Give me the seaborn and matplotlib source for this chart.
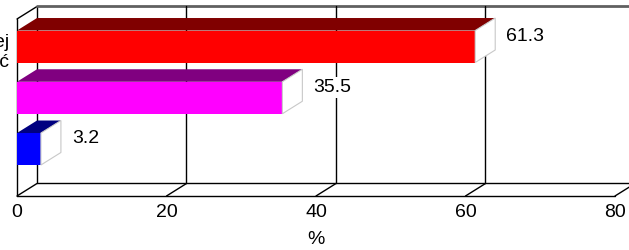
import numpy as np
import pandas as pd
import matplotlib
matplotlib.use('Agg')
import matplotlib.pyplot as plt
import matplotlib.transforms as mtransforms
from matplotlib.patches import Polygon
import seaborn as sns

# dane
kategorie = ['Coraz częściej\nbędzie korzystać', 'Tak samo', 'Rzadziej']
wartosci = [61.3, 35.5, 3.2]
kolory_przod = ['#FF0000', '#FF00FF', '#0000FF']
kolory_gora = ['#800000', '#800080', '#000080']
ticki_x = [0, 20, 40, 60, 80]

sns.set_style('white')
plt.rcParams['font.family'] = ['Liberation Sans', 'DejaVu Sans']
plt.rcParams['text.color'] = 'black'
plt.rcParams['xtick.color'] = 'black'
plt.rcParams['axes.labelcolor'] = 'black'

fig = plt.figure(figsize=(6.29, 2.5), dpi=100)
ax = fig.add_axes([17 / 629, 54 / 250, 612 / 629, 189 / 250])

df = pd.DataFrame({'kat': kategorie, 'proc': wartosci})
sns.barplot(data=df, x='proc', y='kat', hue='kat', palette=kolory_przod,
            orient='h', width=0.624, legend=False, saturation=1, ax=ax, zorder=3)

# głębia 3D (w jednostkach danych)
dx = 20 / 7.475
dy = -0.244
y_front_top = -0.537
y_front_bot = 2.917

ax.set_xlim(0, 612 / 7.475)
ax.set_ylim(y_front_bot, -0.771)
for s in ax.spines.values():
    s.set_visible(False)

# ściany i podłoga
kw = dict(color='black', lw=1, clip_on=False, zorder=1)
ax.plot([dx, dx], [y_front_top + dy, y_front_bot + dy], **kw)
ax.plot([0, 0], [y_front_top, y_front_bot], **kw)
ax.plot([0, dx], [y_front_top, y_front_top + dy], **kw)
ax.plot([dx, 90], [y_front_top + dy, y_front_top + dy], color='#606060', lw=2,
        clip_on=False, zorder=1)
ax.plot([dx, 80 + dx], [y_front_bot + dy, y_front_bot + dy], **kw)
ax.plot([0, 80], [y_front_bot, y_front_bot], **kw)
for t in ticki_x:
    ax.plot([t, t + dx], [y_front_bot, y_front_bot + dy], **kw)
    if 0 < t < 80:
        ax.plot([t + dx, t + dx], [y_front_top + dy, y_front_bot + dy], **kw)

# ściany górne i boczne słupków
for p, kg, v in zip(ax.patches, kolory_gora, wartosci):
    p.set_edgecolor('none')
    y0 = p.get_y()
    y1 = y0 + p.get_height()
    x1 = p.get_x() + p.get_width()
    top = Polygon([(0, y0), (x1, y0), (x1 + dx, y0 + dy), (dx, y0 + dy)],
                  closed=True, facecolor=kg, edgecolor='none', zorder=3)
    side = Polygon([(x1, y0), (x1, y1), (x1 + dx, y1 + dy), (x1 + dx, y0 + dy)],
                   closed=True, facecolor='white', edgecolor='#c8c8c8', lw=0.8, zorder=3)
    ax.add_patch(top)
    ax.add_patch(side)
    ax.text(x1 + dx + 1.5, (y0 + y1) / 2 + dy + 0.04, f'{v:.1f}', ha='left', va='center',
            fontsize=14, zorder=4,
            bbox=dict(facecolor='white', edgecolor='none', pad=1.5))

# etykiety kategorii (ucięte z lewej strony, jak w oryginale)
ax.set_yticks([])
ax.set_ylabel('')
tr = mtransforms.blended_transform_factory(fig.transFigure, ax.transData)
etykiety = []
for i, k in enumerate(kategorie):
    etykiety.append(ax.text(0, i + 0.12, k, transform=tr, ha='center', va='center',
                            multialignment='right', fontsize=14, clip_on=False))
fig.canvas.draw()
szer = etykiety[0].get_window_extent().width
for e in etykiety:
    e.set_x((9 - szer / 2) / 629)

ax.set_xticks(ticki_x)
ax.set_xticklabels([str(t) for t in ticki_x], fontsize=14)
ax.tick_params(axis='x', length=0, pad=6)
ax.set_xlabel('%', fontsize=14)
ax.xaxis.set_label_coords(40 / (612 / 7.475), -0.185)

fig.savefig('out.png', dpi=100)
